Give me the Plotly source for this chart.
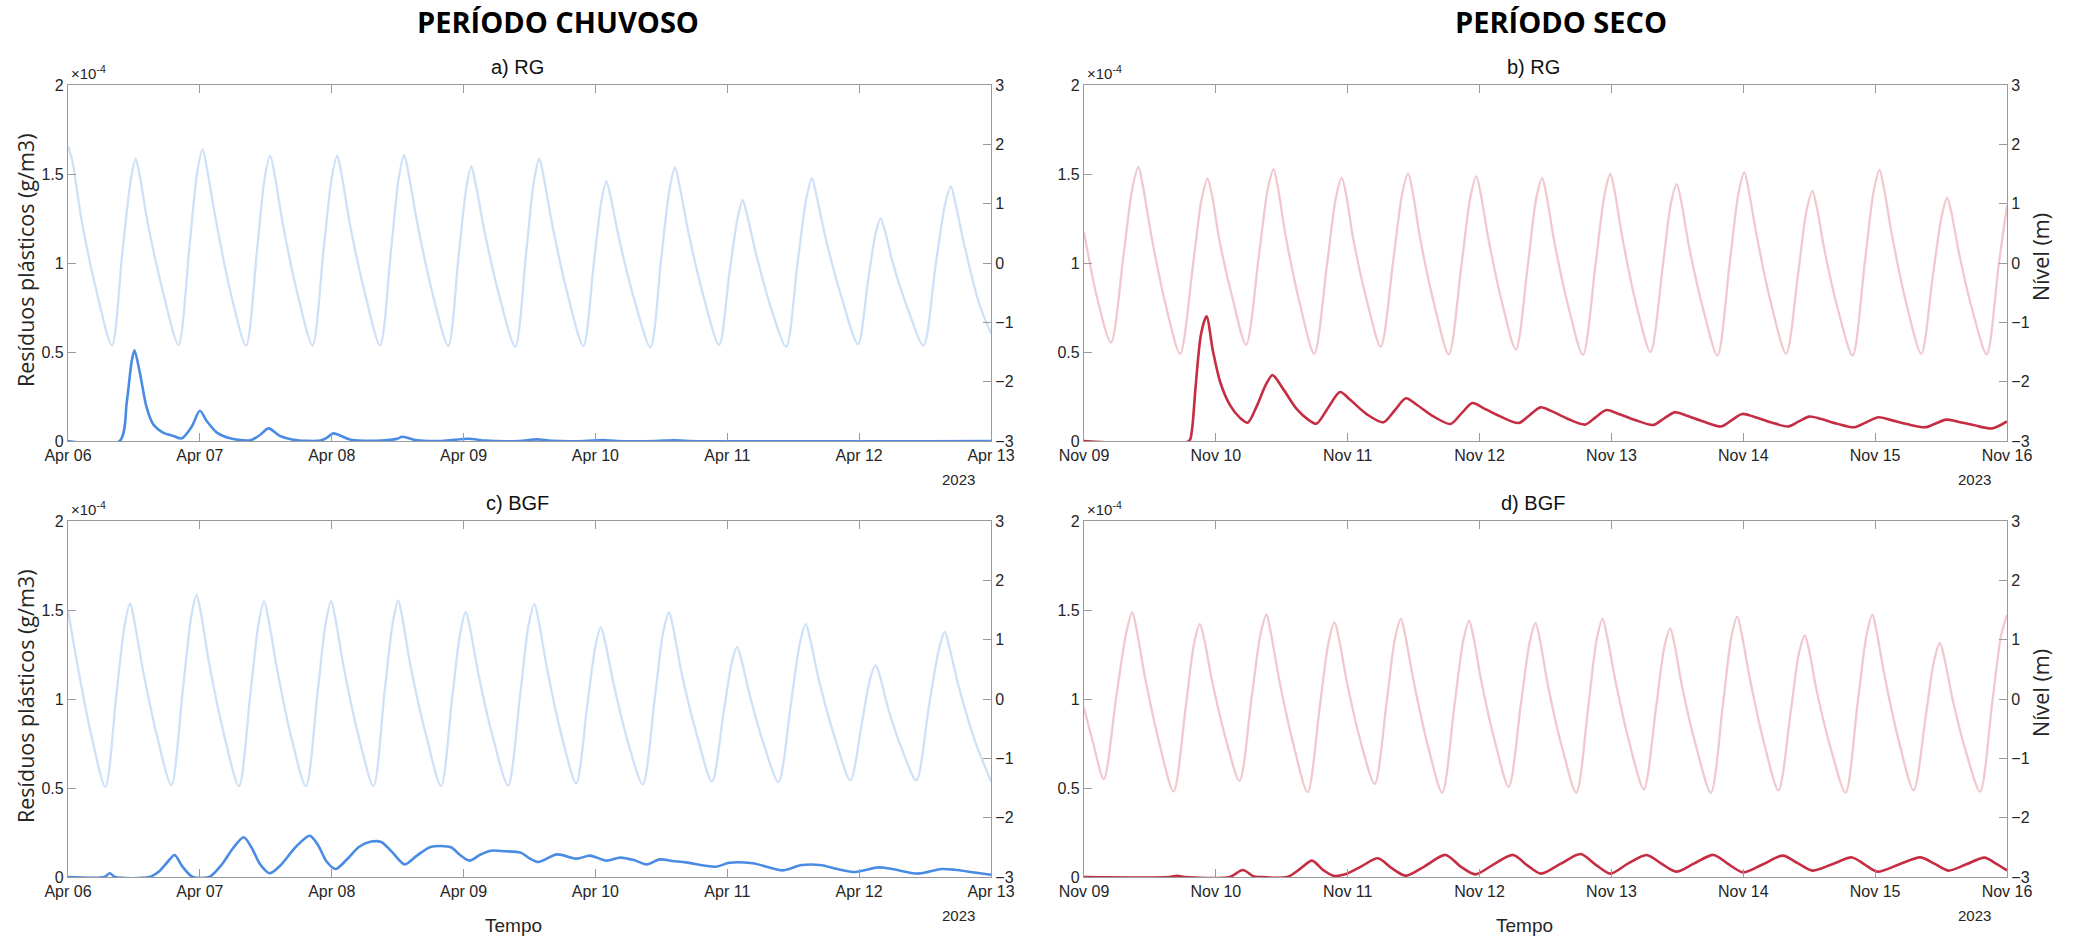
import pandas as pd
import plotly.graph_objects as go

# ---------------- DATA (hours since start of each period) ----------------
start_chuvoso = "2023-04-06"
start_seco = "2023-11-09"

# a) RG - rainy period: water level (m)
tide_a_h = [0, 0.8, 2.4, 5.2, 8.0, 9.9, 11.4, 12.3, 13.1, 14.6, 17.4, 20.1, 22.1, 23.5, 24.5, 25.3, 26.9, 29.6, 32.4,
            34.4, 35.8, 36.8, 37.6, 39.1, 41.8, 44.5, 46.5, 48.0, 49.0, 49.8, 51.3, 54.1, 56.8, 58.8, 60.2, 61.2, 62.0,
            63.6, 66.4, 69.2, 71.1, 72.5, 73.4, 74.2, 75.8, 78.6, 81.4, 83.4, 84.8, 85.8, 86.6, 88.2, 91.0, 93.8, 95.7,
            97.1, 98.0, 98.8, 100.4, 103.2, 106.0, 108.0, 109.5, 110.5, 111.3, 112.9, 115.7, 118.5, 120.4, 121.9,
            122.8, 123.6, 125.2, 127.9, 130.7, 132.8, 134.4, 135.4, 136.2, 137.9, 140.9, 143.8, 145.6, 147.0, 147.9,
            148.7, 150.2, 153.0, 155.7, 157.9, 159.6, 160.7, 161.5, 163.1, 165.8, 168.0]
tide_a_m = [1.97, 1.72, 0.76, -0.48, -1.39, 0.19, 1.38, 1.76, 1.45, 0.63, -0.53, -1.38, 0.27, 1.52, 1.92, 1.59, 0.73,
            -0.50, -1.39, 0.21, 1.43, 1.81, 1.49, 0.66, -0.53, -1.39, 0.21, 1.43, 1.81, 1.49, 0.66, -0.53, -1.39, 0.22,
            1.43, 1.82, 1.50, 0.66, -0.53, -1.40, 0.12, 1.27, 1.63, 1.33, 0.54, -0.59, -1.41, 0.18, 1.38, 1.76, 1.44,
            0.62, -0.55, -1.40, -0.01, 1.05, 1.38, 1.10, 0.37, -0.66, -1.42, 0.10, 1.25, 1.61, 1.31, 0.53, -0.57,
            -1.38, -0.16, 0.77, 1.06, 0.81, 0.17, -0.74, -1.41, 0.01, 1.09, 1.43, 1.15, 0.42, -0.61, -1.37, -0.31,
            0.50, 0.75, 0.54, -0.02, -0.81, -1.39, -0.05, 0.97, 1.29, 1.02, 0.32, -0.67, -1.19]
# a) RG - plastic residues (x1e-4 g/m3)
conc_a_h = [0, 9.4, 10.7, 11.6, 12.1, 13.1, 14.3, 15.5, 17.3, 19.2, 20.7, 22.5, 24.0, 25.3, 27.1, 29.5, 33.2, 35.0,
            36.5, 38.6, 41.0, 45.9, 47.2, 48.3, 51.3, 56.0, 59.8, 60.9, 63.5, 68.0, 72.9, 76.0, 82.0, 85.4, 88.0, 94.0,
            97.3, 100.0, 107.0, 110.4, 113.0, 168.0]
conc_a_e4 = [0, 0, 0.22, 0.45, 0.51, 0.38, 0.19, 0.094, 0.047, 0.028, 0.015, 0.08, 0.17, 0.11, 0.047, 0.015, 0.004,
             0.035, 0.071, 0.028, 0.007, 0.002, 0.02, 0.043, 0.009, 0.001, 0.012, 0.024, 0.004, 0, 0.013, 0.002, 0,
             0.009, 0.001, 0, 0.006, 0, 0, 0.004, 0, 0]

# b) RG - dry period
tide_b_h = [0, 2.3, 4.9, 7.2, 8.8, 9.9, 10.7, 12.2, 14.8, 17.5, 19.8, 21.4, 22.5, 23.3, 24.6, 27.1, 29.5, 31.8, 33.4,
            34.5, 35.3, 36.7, 39.3, 41.9, 44.2, 45.8, 46.9, 47.7, 49.0, 51.5, 54.0, 56.3, 57.9, 59.0, 59.8, 61.2, 63.8,
            66.4, 68.7, 70.3, 71.4, 72.2, 73.6, 76.1, 78.6, 80.8, 82.3, 83.4, 84.2, 85.6, 88.2, 90.8, 93.1, 94.7, 95.8,
            96.6, 98.0, 100.5, 103.1, 105.3, 106.8, 107.9, 108.7, 110.1, 112.7, 115.3, 117.5, 119.1, 120.2, 121.0,
            122.5, 125.1, 127.8, 130.0, 131.5, 132.6, 133.4, 134.8, 137.3, 139.9, 142.1, 143.7, 144.8, 145.6, 147.1,
            149.7, 152.4, 154.5, 156.1, 157.1, 157.9, 159.3, 161.8, 164.3, 166.5, 168.0]
tide_b_m = [0.52, -0.55, -1.34, 0.14, 1.26, 1.62, 1.31, 0.49, -0.68, -1.53, -0.06, 1.07, 1.42, 1.14, 0.41, -0.62,
            -1.38, 0.10, 1.22, 1.58, 1.27, 0.46, -0.69, -1.53, -0.05, 1.08, 1.44, 1.16, 0.41, -0.64, -1.41, 0.05, 1.16,
            1.51, 1.21, 0.41, -0.72, -1.54, -0.04, 1.10, 1.46, 1.17, 0.41, -0.67, -1.46, -0.02, 1.08, 1.43, 1.13, 0.36,
            -0.75, -1.55, -0.03, 1.13, 1.50, 1.20, 0.42, -0.69, -1.50, -0.09, 0.99, 1.33, 1.04, 0.29, -0.78, -1.56,
            -0.02, 1.16, 1.53, 1.22, 0.43, -0.70, -1.53, -0.16, 0.88, 1.21, 0.93, 0.21, -0.81, -1.56, 0.00, 1.19, 1.57,
            1.26, 0.45, -0.69, -1.53, -0.21, 0.78, 1.10, 0.84, 0.15, -0.83, -1.54, -0.02, 0.97]
conc_b_h = [0, 19.1, 19.6, 20.3, 21.3, 22.3, 23.5, 24.8, 26.6, 28.4, 29.8, 31.5, 33.0, 34.3, 36.3, 38.7, 40.8, 42.3,
            44.5, 46.6, 48.5, 51.5, 54.5, 56.5, 58.6, 60.5, 63.5, 66.7, 68.7, 70.7, 72.7, 76.0, 79.1, 81.1, 83.1, 85.1,
            88.0, 91.2, 93.1, 95.1, 97.1, 100.3, 103.6, 105.5, 107.5, 109.5, 112.7, 116.0, 117.9, 119.8, 121.8, 125.0,
            128.2, 130.1, 132.0, 134.0, 137.1, 140.2, 142.4, 144.6, 146.6, 149.8, 153.1, 155.0, 156.9, 158.9, 162.1,
            165.3, 168.0]
conc_b_e4 = [0, 0, 0.05, 0.30, 0.60, 0.70, 0.50, 0.33, 0.20, 0.13, 0.103, 0.20, 0.31, 0.37, 0.29, 0.18, 0.12, 0.097,
             0.19, 0.275, 0.23, 0.15, 0.105, 0.17, 0.24, 0.205, 0.14, 0.096, 0.155, 0.213, 0.185, 0.135, 0.101, 0.145,
             0.189, 0.168, 0.125, 0.092, 0.133, 0.174, 0.155, 0.118, 0.090, 0.125, 0.161, 0.145, 0.11, 0.082, 0.117,
             0.152, 0.138, 0.105, 0.082, 0.11, 0.137, 0.125, 0.097, 0.077, 0.105, 0.133, 0.12, 0.095, 0.077, 0.098,
             0.120, 0.11, 0.088, 0.071, 0.110]

# c) BGF - rainy period
tide_c_h = [0, 2.0, 4.4, 6.8, 8.8, 10.3, 11.3, 12.1, 13.6, 16.2, 18.8, 20.9, 22.4, 23.4, 24.2, 25.7, 28.4, 31.1, 33.2,
            34.7, 35.7, 36.5, 38.0, 40.6, 43.3, 45.4, 46.9, 47.9, 48.7, 50.2, 52.9, 55.6, 57.6, 59.1, 60.1, 60.9, 62.4,
            65.2, 67.9, 69.9, 71.4, 72.4, 73.2, 74.7, 77.4, 80.1, 82.3, 83.8, 84.9, 85.7, 87.2, 89.8, 92.5, 94.5, 96.0,
            97.0, 97.8, 99.3, 101.9, 104.6, 106.8, 108.3, 109.4, 110.2, 111.7, 114.5, 117.2, 119.3, 120.8, 121.8,
            122.6, 124.1, 126.7, 129.3, 131.6, 133.2, 134.3, 135.1, 136.7, 139.6, 142.4, 144.5, 146.0, 147.0, 147.8,
            149.2, 151.8, 154.4, 156.7, 158.5, 159.6, 160.4, 162.1, 165.1, 168.0]
tide_c_m = [1.50, 0.43, -0.68, -1.48, 0.07, 1.24, 1.61, 1.30, 0.51, -0.62, -1.45, 0.16, 1.37, 1.76, 1.44, 0.60, -0.60,
            -1.47, 0.09, 1.28, 1.65, 1.34, 0.53, -0.63, -1.47, 0.09, 1.28, 1.65, 1.34, 0.53, -0.63, -1.47, 0.10, 1.28,
            1.66, 1.35, 0.53, -0.62, -1.47, 0.00, 1.12, 1.47, 1.18, 0.42, -0.67, -1.46, 0.07, 1.23, 1.60, 1.30, 0.51,
            -0.60, -1.42, -0.11, 0.89, 1.21, 0.95, 0.26, -0.72, -1.44, 0.01, 1.11, 1.46, 1.18, 0.43, -0.62, -1.39,
            -0.25, 0.61, 0.88, 0.65, 0.06, -0.78, -1.40, -0.07, 0.94, 1.26, 1.00, 0.31, -0.66, -1.37, -0.40, 0.34,
            0.57, 0.38, -0.13, -0.85, -1.37, -0.12, 0.83, 1.13, 0.88, 0.22, -0.71, -1.39]
conc_c_h = [0, 6.6, 7.6, 8.6, 14.8, 16.5, 18.0, 19.4, 20.8, 22.7, 25.7, 28.0, 30.0, 32.0, 33.5, 35.0, 36.7, 38.5, 41.5,
            44.0, 45.5, 47.0, 48.7, 50.8, 53.0, 55.2, 57.0, 59.0, 61.3, 63.5, 66.1, 69.7, 71.3, 73.1, 75.0, 76.9, 79.5,
            82.4, 84.0, 85.6, 89.0, 92.6, 95.0, 98.0, 100.5, 103.0, 105.3, 107.7, 110.0, 112.5, 117.9, 120.4, 124.6,
            127.5, 130.0, 133.6, 137.2, 140.0, 143.3, 147.5, 150.0, 154.7, 159.0, 161.4, 165.0, 168.0]
conc_c_e4 = [0, 0, 0.021, 0, 0, 0.03, 0.08, 0.124, 0.06, 0, 0, 0.07, 0.16, 0.223, 0.16, 0.07, 0.021, 0.06, 0.17, 0.232,
             0.18, 0.09, 0.045, 0.10, 0.17, 0.199, 0.197, 0.14, 0.071, 0.12, 0.170, 0.167, 0.125, 0.092, 0.125, 0.148,
             0.145, 0.137, 0.105, 0.084, 0.127, 0.103, 0.12, 0.092, 0.109, 0.095, 0.071, 0.099, 0.09, 0.082, 0.058,
             0.080, 0.077, 0.055, 0.037, 0.067, 0.066, 0.045, 0.028, 0.054, 0.045, 0.019, 0.045, 0.041, 0.025, 0.013]

# d) BGF - dry period
tide_d_h = [0, 1.6, 3.6, 5.9, 7.7, 8.8, 9.6, 11.1, 13.7, 16.3, 18.5, 20.0, 21.1, 21.9, 23.3, 25.8, 28.3, 30.5, 32.1,
            33.2, 34.0, 35.5, 38.1, 40.7, 42.9, 44.5, 45.6, 46.4, 47.8, 50.3, 52.9, 55.1, 56.6, 57.7, 58.5, 60.0, 62.6,
            65.2, 67.4, 69.0, 70.1, 70.9, 72.3, 74.8, 77.3, 79.5, 81.1, 82.2, 83.0, 84.4, 87.0, 89.6, 91.8, 93.3, 94.4,
            95.2, 96.7, 99.3, 101.9, 104.1, 105.6, 106.7, 107.5, 108.9, 111.5, 114.1, 116.3, 117.8, 118.9, 119.7,
            121.2, 123.8, 126.4, 128.6, 130.1, 131.2, 132.0, 133.4, 136.0, 138.6, 140.8, 142.4, 143.5, 144.3, 145.8,
            148.4, 151.0, 153.2, 154.7, 155.8, 156.6, 158.0, 160.5, 163.1, 165.3, 166.9, 168.0]
tide_d_m = [-0.15, -0.72, -1.35, 0.06, 1.12, 1.46, 1.16, 0.37, -0.74, -1.56, -0.15, 0.92, 1.26, 1.00, 0.31, -0.67,
            -1.38, 0.02, 1.08, 1.42, 1.12, 0.34, -0.76, -1.57, -0.14, 0.95, 1.29, 1.02, 0.31, -0.70, -1.43, -0.04, 1.02,
            1.35, 1.06, 0.30, -0.79, -1.58, -0.13, 0.97, 1.32, 1.04, 0.31, -0.72, -1.48, -0.10, 0.95, 1.28, 0.99, 0.25,
            -0.81, -1.58, -0.12, 1.00, 1.35, 1.06, 0.32, -0.75, -1.52, -0.16, 0.86, 1.19, 0.91, 0.19, -0.83, -1.58,
            -0.09, 1.03, 1.39, 1.10, 0.34, -0.75, -1.54, -0.24, 0.76, 1.07, 0.81, 0.12, -0.86, -1.58, -0.08, 1.06, 1.42,
            1.12, 0.35, -0.74, -1.54, -0.30, 0.64, 0.94, 0.69, 0.04, -0.88, -1.56, -0.07, 1.06, 1.42]
conc_d_h = [0, 15.5, 16.9, 18.3, 26.5, 28.9, 30.8, 32.0, 37.0, 39.5, 41.5, 43.5, 45.4, 47.5, 50.5, 53.5, 56.0, 58.6,
            62.0, 65.8, 68.5, 71.2, 74.5, 78.1, 80.7, 83.2, 86.8, 90.4, 93.1, 95.8, 99.0, 102.4, 105.1, 107.8, 111.0,
            114.6, 117.3, 120.0, 123.5, 127.2, 129.9, 132.6, 136.2, 139.8, 142.1, 144.4, 148.3, 152.2, 154.8, 157.3,
            160.5, 163.9, 166.0, 168.0]
conc_d_e4 = [0, 0, 0.007, 0, 0, 0.039, 0.005, 0, 0, 0.05, 0.092, 0.04, 0.007, 0.015, 0.06, 0.105, 0.05, 0.007, 0.06,
             0.124, 0.06, 0.015, 0.07, 0.124, 0.065, 0.019, 0.075, 0.129, 0.07, 0.019, 0.075, 0.124, 0.075, 0.030,
             0.075, 0.124, 0.072, 0.026, 0.07, 0.120, 0.078, 0.036, 0.072, 0.110, 0.07, 0.030, 0.07, 0.110, 0.075,
             0.036, 0.07, 0.109, 0.075, 0.037]

left_ticks = [0, 0.5, 1, 1.5, 2]
left_ticklabels = ["0", "0.5", "1", "1.5", "2"]
right_ticks = [-3, -2, -1, 0, 1, 2, 3]

panel_titles = ["a) RG", "b) RG", "c) BGF", "d) BGF"]
column_titles = ["PERÍODO CHUVOSO", "PERÍODO SECO"]

# ---------------- STYLE ----------------
W, H = 2074, 942
BLUE_L, BLUE_D = "#cfe1f8", "#4a8ce3"
RED_L, RED_D = "#f1c8ce", "#c42d42"
AX = "#9a9a9a"
TXT = "#262626"
TICKFONT = dict(family="Liberation Sans, Arial", size=16, color=TXT)


def to_time(start, hours):
    return pd.Timestamp(start) + pd.to_timedelta(pd.Series(hours), unit="h")


panels = [
    (start_chuvoso, tide_a_h, tide_a_m, conc_a_h, conc_a_e4, BLUE_L, BLUE_D),
    (start_seco, tide_b_h, tide_b_m, conc_b_h, conc_b_e4, RED_L, RED_D),
    (start_chuvoso, tide_c_h, tide_c_m, conc_c_h, conc_c_e4, BLUE_L, BLUE_D),
    (start_seco, tide_d_h, tide_d_m, conc_d_h, conc_d_e4, RED_L, RED_D),
]

# pixel layout -> paper domains
xdom = [(68, 991), (1084, 2007), (68, 991), (1084, 2007)]
ydom = [(85, 441), (85, 441), (521, 877), (521, 877)]

fig = go.Figure()
layout = dict(width=W, height=H, margin=dict(l=0, r=0, t=0, b=0, autoexpand=False),
              plot_bgcolor="white", paper_bgcolor="white", showlegend=False)
annotations = []

for i, (st, th, tm, ch, cv, cl, cd) in enumerate(panels):
    n = i + 1
    xa = "x" if n == 1 else f"x{n}"
    yl_i, yr_i = 2 * i + 1, 2 * i + 2
    yl = "y" if yl_i == 1 else f"y{yl_i}"
    yr = f"y{yr_i}"
    fig.add_trace(go.Scatter(x=to_time(st, ch), y=cv, mode="lines", xaxis=xa, yaxis=yl,
                             line=dict(color=cd, width=2.6, shape="spline", smoothing=0.8)))
    fig.add_trace(go.Scatter(x=to_time(st, th), y=tm, mode="lines", xaxis=xa, yaxis=yr,
                             line=dict(color=cl, width=2.3, shape="spline", smoothing=0.8)))
    x0, x1 = xdom[i]
    y0, y1 = ydom[i]
    dx = [x0 / W, x1 / W]
    dy = [(H - y1) / H, (H - y0) / H]
    t0 = pd.Timestamp(st)
    days = [t0 + pd.Timedelta(days=k) for k in range(8)]
    xkey = "xaxis" if n == 1 else f"xaxis{n}"
    layout[xkey] = dict(domain=dx, anchor=yl, type="date", range=[days[0], days[-1]],
                        tickvals=days, ticktext=[d.strftime("%b %d") for d in days],
                        ticks="inside", ticklen=8, tickcolor=AX, showline=True, linecolor=AX,
                        linewidth=1.3, mirror="ticks", showgrid=False, zeroline=False,
                        tickfont=TICKFONT, automargin=False)
    ylkey = "yaxis" if yl_i == 1 else f"yaxis{yl_i}"
    layout[ylkey] = dict(domain=dy, anchor=xa, range=[0, 2], tickvals=left_ticks,
                         ticktext=left_ticklabels, ticks="inside", ticklen=8, tickcolor=AX,
                         showline=True, linecolor=AX, linewidth=1.3, showgrid=False,
                         zeroline=False, tickfont=TICKFONT, automargin=False)
    layout[f"yaxis{yr_i}"] = dict(overlaying=yl, anchor=xa, side="right", range=[-3, 3],
                                  tickvals=right_ticks, ticks="inside", ticklen=8, tickcolor=AX,
                                  showline=True, linecolor=AX, linewidth=1.3, showgrid=False,
                                  zeroline=False, tickfont=TICKFONT, automargin=False)
    # panel title
    annotations.append(dict(text=panel_titles[i], xref="paper", yref="paper",
                            x=(x0 + x1) / 2 / W - 0.006, y=(H - (y0 - 18)) / H,
                            xanchor="center", yanchor="middle", showarrow=False,
                            font=dict(family="Liberation Sans, Arial", size=20, color="#111111")))
    # exponent label
    annotations.append(dict(text="×10<sup>-4</sup>", xref="paper", yref="paper",
                            x=(x0 + 1) / W, y=(H - y0 + 1) / H, xanchor="left", yanchor="bottom",
                            showarrow=False, font=dict(family="Liberation Sans, Arial", size=15, color=TXT)))
    # year label
    annotations.append(dict(text="2023", xref="paper", yref="paper",
                            x=(x1 - 33) / W, y=(H - (y1 + 38)) / H, xanchor="center", yanchor="middle",
                            showarrow=False, font=dict(family="Liberation Sans, Arial", size=15, color=TXT)))

# axis titles
for (y0, y1) in [(85, 441), (521, 877)]:
    annotations.append(dict(text="Resíduos plásticos (g/m3)", xref="paper", yref="paper",
                            x=25 / W, y=(H - (y0 + y1) / 2 + 3) / H, textangle=-90,
                            xanchor="center", yanchor="middle", showarrow=False,
                            font=dict(family="Open Sans", size=21.5, color=TXT)))
    annotations.append(dict(text="Nível (m)", xref="paper", yref="paper",
                            x=2040 / W, y=(H - (y0 + y1) / 2 + 6) / H, textangle=-90,
                            xanchor="center", yanchor="middle", showarrow=False,
                            font=dict(family="Open Sans", size=21.5, color=TXT)))

# x titles
for cx in [513, 1524]:
    annotations.append(dict(text="Tempo", xref="paper", yref="paper", x=cx / W, y=(H - 925) / H,
                            xanchor="center", yanchor="middle", showarrow=False,
                            font=dict(family="Liberation Sans, Arial", size=19, color=TXT)))

# column headers
for cx, t in zip([558, 1561], column_titles):
    annotations.append(dict(text=f"<b>{t}</b>", xref="paper", yref="paper", x=cx / W, y=(H - 22) / H,
                            xanchor="center", yanchor="middle", showarrow=False,
                            font=dict(family="Open Sans", size=29, color="#000000")))

layout["annotations"] = annotations
fig.update_layout(**layout)
fig.write_html("out.html")
